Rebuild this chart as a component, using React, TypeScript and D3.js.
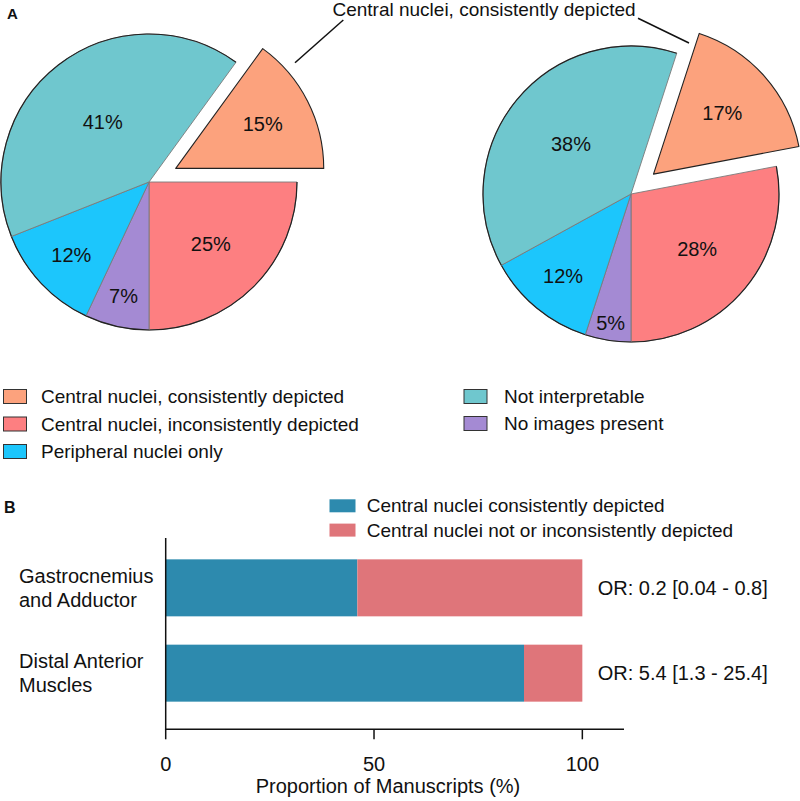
import React from "react";
import * as d3 from "d3";

// ---------- Data ----------
const pieCategories = [
  "Central nuclei, consistently depicted",
  "Central nuclei, inconsistently depicted",
  "No images present",
  "Peripheral nuclei only",
  "Not interpretable",
];
const pieLeftValues = [15, 25, 7, 12, 41];
const pieRightValues = [17, 28, 5, 12, 38];
const pieColors = ["#fca27d", "#fd7f81", "#a48ad3", "#1cc6fc", "#6fc7ce"];

const legendCol1 = [
  "Central nuclei, consistently depicted",
  "Central nuclei, inconsistently depicted",
  "Peripheral nuclei only",
];
const legendCol2 = ["Not interpretable", "No images present"];

const calloutText = "Central nuclei, consistently depicted";

const barCategories = ["Gastrocnemius and Adductor", "Distal Anterior Muscles"];
const barLabelLines = [
  ["Gastrocnemius", "and Adductor"],
  ["Distal Anterior", "Muscles"],
];
const consistentValues = [46, 86];
const inconsistentValues = [54, 14];
const oddsRatioLabels = ["OR: 0.2 [0.04 - 0.8]", "OR: 5.4 [1.3 - 25.4]"];
const barSeriesNames = [
  "Central nuclei consistently depicted",
  "Central nuclei not or inconsistently depicted",
];
const barColors = ["#2d8aae", "#df757a"];
const xTicks = [0, 50, 100];
const xAxisTitle = "Proportion of Manuscripts (%)";

const FONT = "'Liberation Sans', Arial, Helvetica, sans-serif";

function Pie({ cx, cy, values }: { cx: number; cy: number; values: number[] }) {
  const r = 148;
  const explode = 30;
  const total = d3.sum(values);
  const startAngle = Math.PI - ((values[0] + values[1]) / total) * 2 * Math.PI;
  const pie = d3
    .pie<number>()
    .sort(null)
    .value((d) => d)
    .startAngle(startAngle)
    .endAngle(startAngle + 2 * Math.PI);
  const arcs = pie(values);
  const arc = d3.arc<d3.PieArcDatum<number>>().innerRadius(0).outerRadius(r);
  const outerArc = d3.arc<d3.PieArcDatum<number>>().innerRadius(r).outerRadius(r);
  const labelR = d3
    .scaleLinear()
    .domain([5, 7, 12, 17, 28, 41])
    .range([0.88, 0.79, 0.72, 0.62, 0.58, 0.51])
    .clamp(true);
  return (
    <g transform={`translate(${cx},${cy})`}>
      {arcs.map((a, i) => {
        const mid = (a.startAngle + a.endAngle) / 2;
        const off = i === 0 ? explode : 0;
        const dx = Math.sin(mid) * off;
        const dy = -Math.cos(mid) * off;
        const lr = labelR(a.data) * r;
        const lx = Math.sin(mid) * lr;
        const ly = -Math.cos(mid) * lr;
        return (
          <g key={i} transform={`translate(${dx},${dy})`}>
            <path
              d={arc(a) || ""}
              fill={pieColors[i]}
              stroke={i === 0 ? "#222" : "#7a7a7a"}
              strokeWidth={i === 0 ? 1.1 : 0.9}
              strokeLinejoin="round"
            />
            {i !== 0 && (
              <path d={outerArc(a) || ""} fill="none" stroke="#222" strokeWidth={1.2} />
            )}
            <text
              x={lx}
              y={ly}
              dy="0.35em"
              textAnchor="middle"
              fontSize={20}
              fontFamily={FONT}
              fill="#111"
            >
              {`${a.data}%`}
            </text>
          </g>
        );
      })}
    </g>
  );
}

export default function App() {
  // Bar chart scales
  const x = d3.scaleLinear().domain([0, 110]).range([165.7, 624]);
  const y = d3
    .scaleBand<string>()
    .domain(barCategories)
    .range([531.7, 729.3])
    .paddingInner(0.332)
    .paddingOuter(0.324);
  const axisY = 729.3;

  return (
    <svg
      width={800}
      height={801}
      style={{ position: "absolute", left: 0, top: 0, background: "#fff" }}
      fontFamily={FONT}
    >
      <rect x={0} y={0} width={800} height={801} fill="#fff" />
      {/* Panel A */}
      <text x={7} y={18.5} fontSize={15} fontWeight="bold" fill="#111">
        A
      </text>
      <Pie cx={149} cy={182} values={pieLeftValues} />
      <Pie cx={631} cy={194} values={pieRightValues} />
      {/* Callout */}
      <text x={484} y={16} fontSize={19} textAnchor="middle" fill="#111">
        {calloutText}
      </text>
      <line x1={295} y1={62.7} x2={343.3} y2={20} stroke="#111" strokeWidth={1.5} />
      <line x1={638} y1={18.3} x2={689} y2={43} stroke="#111" strokeWidth={1.5} />

      {/* Legend A */}
      {legendCol1.map((name, i) => {
        const idx = pieCategories.indexOf(name);
        const cyy = 396.5 + i * 27.5;
        return (
          <g key={name}>
            <rect x={3.5} y={cyy - 7} width={23} height={14} fill={pieColors[idx]} stroke="#333" strokeWidth={1} />
            <text x={41} y={cyy} dy="0.35em" fontSize={19} fill="#111">
              {name}
            </text>
          </g>
        );
      })}
      {legendCol2.map((name, i) => {
        const idx = pieCategories.indexOf(name);
        const cyy = 396.5 + i * 27;
        return (
          <g key={name}>
            <rect x={464} y={cyy - 7} width={23} height={14} fill={pieColors[idx]} stroke="#333" strokeWidth={1} />
            <text x={504} y={cyy} dy="0.35em" fontSize={19} fill="#111">
              {name}
            </text>
          </g>
        );
      })}

      {/* Panel B */}
      <text x={4} y={512.7} fontSize={16} fontWeight="bold" fill="#111">
        B
      </text>
      {barSeriesNames.map((name, i) => (
        <g key={name}>
          <rect x={329.5} y={499.3 + i * 24.3} width={26} height={13} fill={barColors[i]} />
          <text x={366.7} y={505.8 + i * 24.3} dy="0.35em" fontSize={19} fill="#111">
            {name}
          </text>
        </g>
      ))}

      {barCategories.map((cat, i) => {
        const by = y(cat)!;
        const bh = y.bandwidth();
        const cyy = by + bh / 2;
        return (
          <g key={cat}>
            <rect x={x(0)} y={by} width={x(consistentValues[i]) - x(0)} height={bh} fill={barColors[0]} />
            <rect
              x={x(consistentValues[i])}
              y={by}
              width={x(consistentValues[i] + inconsistentValues[i]) - x(consistentValues[i])}
              height={bh}
              fill={barColors[1]}
            />
            {barLabelLines[i].map((ln, j) => (
              <text key={j} x={19} y={cyy + (j === 0 ? -12.2 : 12.2)} dy="0.35em" fontSize={20} fill="#111">
                {ln}
              </text>
            ))}
            <text x={597.7} y={cyy} dy="0.35em" fontSize={20} fill="#111">
              {oddsRatioLabels[i]}
            </text>
          </g>
        );
      })}

      {/* Axes */}
      <line x1={x(0)} y1={538} x2={x(0)} y2={axisY} stroke="#111" strokeWidth={1.5} />
      <line x1={x(0) - 0.75} y1={axisY} x2={x(110)} y2={axisY} stroke="#111" strokeWidth={1.5} />
      {xTicks.map((t) => (
        <g key={t}>
          <line x1={x(t)} y1={axisY} x2={x(t)} y2={axisY + 10} stroke="#111" strokeWidth={1.5} />
          <text x={x(t)} y={764} dy="0.35em" textAnchor="middle" fontSize={20} fill="#111">
            {t}
          </text>
        </g>
      ))}
      <text x={388} y={786} dy="0.35em" textAnchor="middle" fontSize={20} fill="#111">
        {xAxisTitle}
      </text>
    </svg>
  );
}
